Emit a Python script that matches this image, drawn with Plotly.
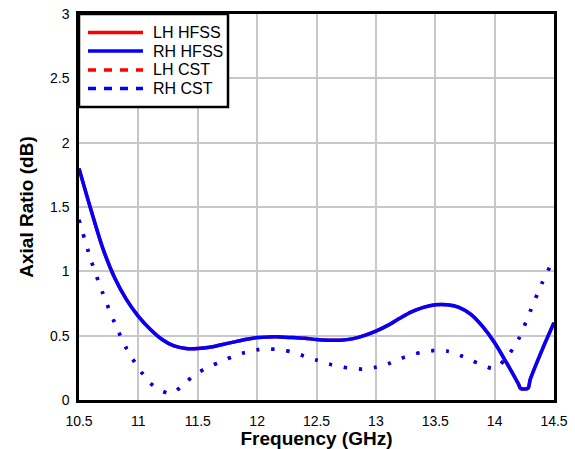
import plotly.graph_objects as go

freq_hfss = [10.5, 10.6, 10.7, 10.8, 10.9, 11.0, 11.1, 11.2, 11.3, 11.4, 11.5, 11.6, 11.7, 11.8, 11.9,
             12.0, 12.1, 12.2, 12.3, 12.4, 12.5, 12.6, 12.7, 12.8, 12.9, 13.0, 13.1, 13.2, 13.3, 13.4,
             13.5, 13.6, 13.7, 13.8, 13.9, 14.0, 14.1, 14.2, 14.22, 14.28, 14.3, 14.4, 14.5]
ar_rh_hfss = [1.80, 1.48, 1.18, 0.95, 0.78, 0.65, 0.55, 0.47, 0.42, 0.40, 0.40, 0.41, 0.43, 0.45, 0.47,
              0.485, 0.49, 0.49, 0.485, 0.48, 0.47, 0.465, 0.465, 0.475, 0.50, 0.535, 0.58, 0.635, 0.685, 0.72,
              0.74, 0.74, 0.72, 0.665, 0.57, 0.445, 0.29, 0.125, 0.09, 0.09, 0.16, 0.39, 0.60]
ar_lh_hfss = list(ar_rh_hfss)

freq_cst = [10.5, 10.6, 10.7, 10.8, 10.9, 11.0, 11.1, 11.2, 11.25, 11.3, 11.4, 11.5, 11.6, 11.7, 11.8,
            11.9, 12.0, 12.1, 12.2, 12.3, 12.4, 12.5, 12.6, 12.7, 12.8, 12.9, 13.0, 13.1, 13.2, 13.3,
            13.4, 13.5, 13.6, 13.7, 13.8, 13.9, 14.0, 14.1, 14.2, 14.3, 14.4, 14.5]
ar_rh_cst = [1.40, 1.09, 0.83, 0.60, 0.40, 0.25, 0.13, 0.07, 0.055, 0.06, 0.14, 0.21, 0.26, 0.30, 0.34,
             0.37, 0.39, 0.395, 0.39, 0.37, 0.34, 0.31, 0.28, 0.26, 0.245, 0.24, 0.255, 0.28, 0.32, 0.35,
             0.375, 0.385, 0.38, 0.35, 0.31, 0.27, 0.245, 0.33, 0.47, 0.69, 0.91, 1.10]
ar_lh_cst = list(ar_rh_cst)

x_ticks = [10.5, 11, 11.5, 12, 12.5, 13, 13.5, 14, 14.5]
x_tick_text = ["10.5", "11", "11.5", "12", "12.5", "13", "13.5", "14", "14.5"]
y_ticks = [0, 0.5, 1, 1.5, 2, 2.5, 3]
y_tick_text = ["0", "0.5", "1", "1.5", "2", "2.5", "3"]

RED = "#ff0000"
BLUE = "#0000ff"

series = [
    ("LH HFSS", freq_hfss, ar_lh_hfss, RED, "solid", "solid"),
    ("RH HFSS", freq_hfss, ar_rh_hfss, BLUE, "solid", "solid"),
    ("LH CST", freq_cst, ar_lh_cst, RED, "3px,12px", "8px,8px"),
    ("RH CST", freq_cst, ar_rh_cst, BLUE, "3px,12px", "8px,8px"),
]

fig = go.Figure()
for name, xs, ys, col, dash, _ in series:
    fig.add_trace(go.Scatter(x=xs, y=ys, mode="lines", name=name, showlegend=False,
                             line=dict(color=col, width=3.5, dash=dash, shape="spline", smoothing=0.8)))

font_family = "Liberation Sans, Arial, sans-serif"

# plot area geometry (px)
W, H = 575, 449
ML, MR, MT, MB = 79, 21, 14, 49
PW, PH = W - ML - MR, H - MT - MB

def px_x(p):
    return (p - ML) / PW

def px_y(p):
    return 1 - (p - MT) / PH

# legend box drawn in paper coordinates
shapes = [dict(type="rect", xref="paper", yref="paper",
               x0=px_x(ML), x1=px_x(228), y0=px_y(107), y1=px_y(MT),
               line=dict(color="black", width=2.5), fillcolor="white", layer="above")]
annotations = []
row_y = [32.5, 51, 70, 88.5]
for (name, _, _, col, _, ldash), ry in zip(series, row_y):
    shapes.append(dict(type="line", xref="paper", yref="paper",
                       x0=px_x(88), x1=px_x(143), y0=px_y(ry), y1=px_y(ry),
                       line=dict(color=col, width=3.5, dash=ldash), layer="above"))
    annotations.append(dict(xref="paper", yref="paper", x=px_x(151), y=px_y(ry),
                            xanchor="left", yanchor="middle", text=name, showarrow=False,
                            font=dict(size=16, family=font_family, color="black")))

fig.update_layout(
    width=W, height=H,
    margin=dict(l=ML, r=MR, t=MT, b=MB),
    paper_bgcolor="white", plot_bgcolor="white",
    font=dict(family=font_family, size=14, color="black"),
    showlegend=False,
    shapes=shapes, annotations=annotations,
)

fig.update_xaxes(range=[10.5, 14.5], tickmode="array", tickvals=x_ticks, ticktext=x_tick_text,
                 showgrid=True, gridcolor="#c8c8c8", gridwidth=1.5,
                 showline=True, linecolor="black", linewidth=2.5, mirror=True,
                 ticks="", zeroline=False, ticklabelstandoff=6, automargin=False,
                 title=dict(text="<b>Frequency (GHz)</b>", font=dict(size=19, family=font_family), standoff=0))
fig.update_yaxes(range=[0, 3], tickmode="array", tickvals=y_ticks, ticktext=y_tick_text,
                 showgrid=True, gridcolor="#c8c8c8", gridwidth=1.5,
                 showline=True, linecolor="black", linewidth=2.5, mirror=True,
                 ticks="", zeroline=False, ticklabelstandoff=4, automargin=False,
                 title=dict(text="<b>Axial Ratio (dB)</b>", font=dict(size=19, family=font_family), standoff=12))

fig.write_html("out.html")
